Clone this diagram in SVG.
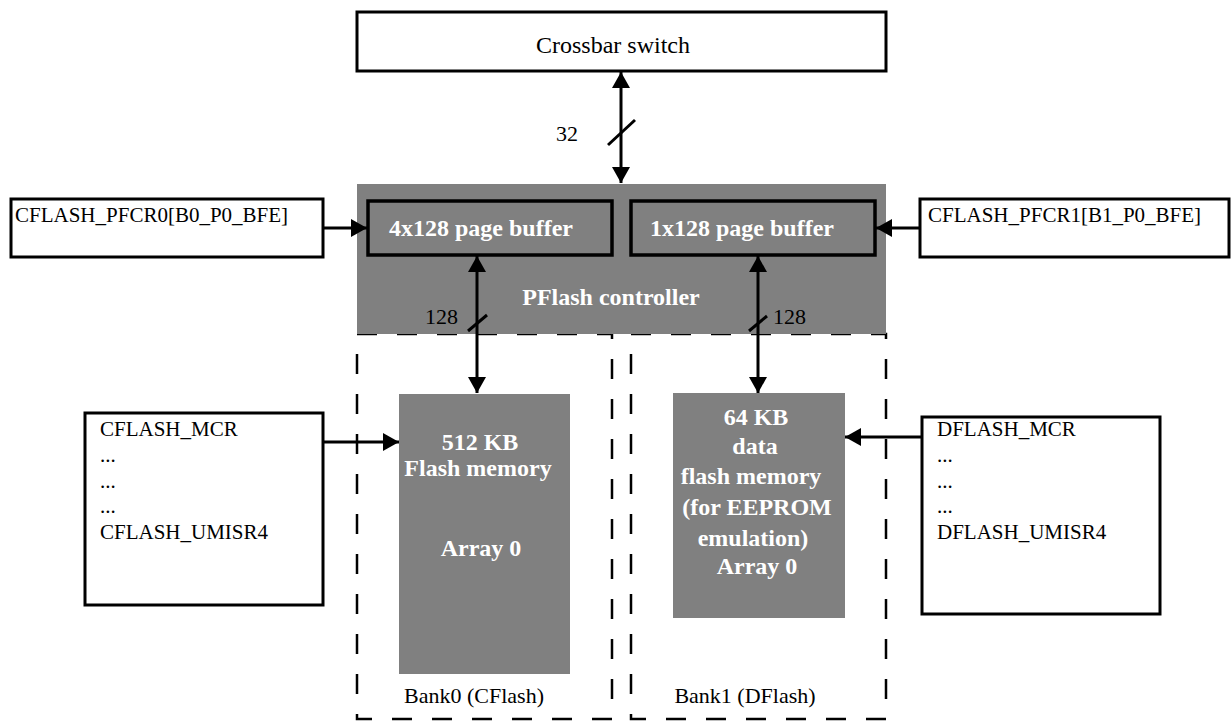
<svg xmlns="http://www.w3.org/2000/svg" width="1231" height="722" viewBox="0 0 1231 722">
<defs>
<style>
.box{fill:#fff;stroke:#000;stroke-width:3}
.gray{fill:#808080;stroke:none}
.buf{fill:#808080;stroke:#000;stroke-width:3.5}
.bank{fill:none;stroke:#000;stroke-width:2.5;stroke-dasharray:20 20}
.t{font-family:"Liberation Serif","Times New Roman",serif;font-size:21px;fill:#000}
.w{font-family:"Liberation Serif","Times New Roman",serif;font-size:24px;font-weight:bold;fill:#fff;text-anchor:middle}
.c{text-anchor:middle}
.ln{stroke:#000;stroke-width:3;fill:none}
</style>
<marker id="ah" viewBox="0 0 16 18" refX="16" refY="9" markerWidth="16" markerHeight="18" markerUnits="userSpaceOnUse" orient="auto-start-reverse">
<path d="M0,0 L16,9 L0,18 Z" fill="#000"/>
</marker>
</defs>

<g id="bank0"><rect class="bank" x="357" y="334" width="255" height="385"/><text class="t c" x="474" y="703" style="font-size:22px">Bank0 (CFlash)</text></g>
<g id="bank1"><rect class="bank" x="631" y="334" width="255" height="385"/><text class="t c" x="745" y="703" style="font-size:22px">Bank1 (DFlash)</text></g>

<g id="crossbar"><rect class="box" x="357" y="12" width="529" height="59"/><text class="t c" x="613" y="53" style="font-size:24px">Crossbar switch</text></g>

<g id="controller"><rect class="gray" x="357" y="184" width="529" height="150"/><text class="w" x="611" y="305">PFlash controller</text></g>
<g id="pagebuf0"><rect class="buf" x="368" y="201" width="244" height="54"/><text class="w" x="481" y="236">4x128 page buffer</text></g>
<g id="pagebuf1"><rect class="buf" x="631" y="201" width="244" height="54"/><text class="w" x="742" y="236">1x128 page buffer</text></g>

<g id="pfcr0"><rect class="box" x="11" y="199" width="312" height="58"/><text class="t" x="15" y="222">CFLASH_PFCR0[B0_P0_BFE]</text></g>
<g id="pfcr1"><rect class="box" x="920" y="199" width="309" height="58"/><text class="t" x="928" y="222">CFLASH_PFCR1[B1_P0_BFE]</text></g>

<g id="cflashmem"><rect class="gray" x="399" y="394" width="171" height="280"/>
<text class="w" x="480" y="450">512 KB</text>
<text class="w" x="478" y="476">Flash memory</text>
<text class="w" x="481" y="556">Array 0</text></g>

<g id="dflashmem"><rect class="gray" x="673" y="393" width="172" height="225"/>
<text class="w" x="756" y="425">64 KB</text>
<text class="w" x="755" y="454">data</text>
<text class="w" x="751" y="484">flash memory</text>
<text class="w" x="757" y="515">(for EEPROM</text>
<text class="w" x="753" y="546">emulation)</text>
<text class="w" x="757" y="574">Array 0</text></g>

<g id="cflashregs"><rect class="box" x="85" y="413" width="238" height="192"/>
<text class="t" x="100" y="436">CFLASH_MCR</text>
<text class="t" x="100" y="462">...</text>
<text class="t" x="100" y="488">...</text>
<text class="t" x="100" y="513">...</text>
<text class="t" x="100" y="539">CFLASH_UMISR4</text></g>

<g id="dflashregs"><rect class="box" x="922" y="417" width="238" height="197"/>
<text class="t" x="937" y="436">DFLASH_MCR</text>
<text class="t" x="937" y="462">...</text>
<text class="t" x="937" y="488">...</text>
<text class="t" x="937" y="513">...</text>
<text class="t" x="937" y="539">DFLASH_UMISR4</text></g>

<g id="connectors">
<line class="ln" x1="621" y1="72" x2="621" y2="183" marker-start="url(#ah)" marker-end="url(#ah)"/>
<line class="ln" x1="608" y1="145" x2="635" y2="120"/>
<text class="t" x="556" y="141" style="font-size:22px">32</text>

<line class="ln" x1="477" y1="256" x2="477" y2="393" marker-start="url(#ah)" marker-end="url(#ah)"/>
<line class="ln" x1="468" y1="331" x2="487" y2="315"/>
<text class="t" x="425" y="324" style="font-size:22px">128</text>

<line class="ln" x1="758" y1="256" x2="758" y2="393" marker-start="url(#ah)" marker-end="url(#ah)"/>
<line class="ln" x1="749" y1="331" x2="767" y2="316"/>
<text class="t" x="773" y="324" style="font-size:22px">128</text>

<line class="ln" x1="323" y1="228" x2="367" y2="228" marker-end="url(#ah)"/>
<line class="ln" x1="920" y1="228" x2="876" y2="228" marker-end="url(#ah)"/>
<line class="ln" x1="323" y1="442" x2="399" y2="442" marker-end="url(#ah)"/>
<line class="ln" x1="922" y1="437" x2="845" y2="437" marker-end="url(#ah)"/>
</g>
</svg>
